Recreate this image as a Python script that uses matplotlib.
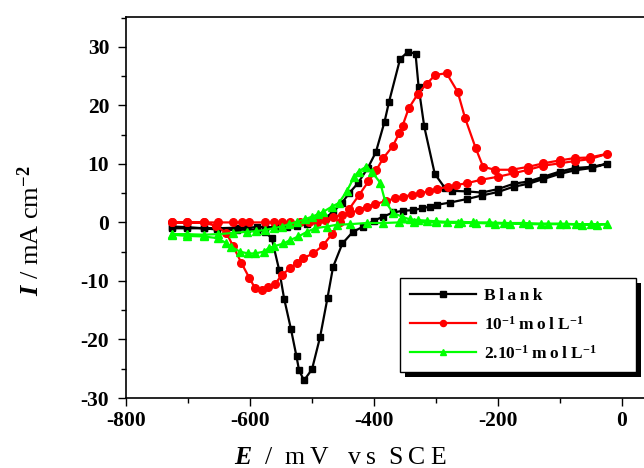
import matplotlib
matplotlib.use('Agg')
import matplotlib.pyplot as plt
from matplotlib.patches import Rectangle
from matplotlib.ticker import MultipleLocator, FuncFormatter

plt.rcParams['font.family'] = ['Liberation Serif', 'DejaVu Serif']
plt.rcParams['font.weight'] = 'bold'
plt.rcParams['mathtext.fontset'] = 'custom'
plt.rcParams['mathtext.rm'] = 'Liberation Serif:bold'
plt.rcParams['mathtext.bf'] = 'Liberation Serif:bold'
plt.rcParams['mathtext.it'] = 'Liberation Serif:italic:bold'

# Blank
blank_E = [-726, -702, -675, -654, -621, -605, -589, -576, -560, -541, -525, -508, -492, -478,
           -466, -452, -440, -426, -410, -397, -383, -376, -358, -345, -333, -328, -319, -302,
           -285, -275, -250, -226, -200, -175, -151, -127, -100, -76, -49, -25,
           -49, -76, -100, -127, -151, -175, -200, -226, -250, -277, -299, -310, -323, -337,
           -353, -369, -385, -400, -417, -434, -451, -466, -475, -487, -500, -513, -521, -525,
           -534, -545, -553, -565, -576, -589, -605, -621, -654, -675, -702, -726]
blank_I = [-1.0, -1.0, -1.0, -1.0, -0.9, -0.9, -0.8, -0.8, -0.8, -0.8, -0.6, -0.3, 0.1, 0.8,
           1.8, 3.3, 5.0, 6.7, 9.3, 12.0, 17.2, 20.5, 27.9, 29.2, 28.8, 23.1, 16.4, 8.3,
           5.8, 5.4, 5.3, 5.1, 5.7, 6.6, 7.0, 7.8, 8.7, 9.3, 9.5, 10.0,
           9.3, 8.9, 8.3, 7.4, 6.6, 6.1, 5.2, 4.6, 4.0, 3.4, 3.0, 2.7, 2.4, 2.1,
           2.0, 1.7, 1.0, 0.3, -0.7, -1.6, -3.6, -7.6, -12.9, -19.6, -25.1, -27.0, -25.2, -22.9,
           -18.2, -13.0, -8.1, -2.7, -1.6, -1.3, -1.2, -1.3, -1.2, -1.0, -0.8, -0.7]

# 10^-1 mol/L
c1_E = [-726, -702, -675, -655, -638, -627, -614, -601, -592, -581, -571, -560, -549, -535,
        -525, -514, -498, -482, -468, -455, -440, -424, -409, -396, -385, -370, -359, -354,
        -344, -329, -315, -301, -283, -265, -253, -236, -224, -205, -178, -151, -127, -100,
        -76, -52, -25,
        -52, -76, -100, -127, -151, -175, -200, -227, -250, -267, -280, -299, -312, -326,
        -339, -353, -366, -380, -398, -412, -425, -439, -452, -466, -479, -492, -505, -520,
        -535, -549, -562, -576, -601, -613, -627, -651, -675, -702, -726]
c1_I = [0.0, 0.0, 0.0, -0.6, -1.8, -4.1, -6.9, -9.5, -11.2, -11.5, -11.1, -10.6, -9.0, -7.8,
        -7.0, -6.1, -5.3, -3.9, -2.0, 0.0, 2.3, 4.7, 7.0, 9.0, 11.0, 13.0, 15.3, 16.5,
        19.5, 22.0, 23.7, 25.2, 25.5, 22.3, 17.8, 12.7, 9.5, 9.0, 9.0, 9.5, 10.1, 10.6,
        11.0, 11.1, 11.7,
        10.8, 10.5, 10.1, 9.7, 9.0, 8.4, 7.8, 7.3, 6.7, 6.4, 6.1, 5.7, 5.3, 5.0,
        4.7, 4.4, 4.1, 3.7, 3.1, 2.7, 2.1, 1.6, 1.3, 0.9, 0.4, 0.1, 0.0, 0.0,
        0.0, 0.0, 0.0, 0.0, 0.0, 0.0, 0.0, 0.0, 0.0, 0.0, 0.0]

# 2.10^-1 mol/L
c2_E = [-726, -702, -675, -651, -627, -605, -590, -576, -562, -549, -537, -525, -512, -500,
        -490, -482, -468, -457, -444, -432, -425, -413, -404, -390, -382, -369, -355, -342,
        -329, -315, -300, -283, -260, -240, -215, -190, -160, -130, -100, -75, -50, -25,
        -40, -65, -90, -120, -150, -180, -205, -235, -265, -300, -335, -360, -385, -412,
        -439, -460, -476, -495, -508, -522, -535, -546, -562, -570, -578, -592, -603, -616,
        -630, -638, -651, -675, -702, -726]
c2_I = [-2.0, -2.0, -2.1, -2.0, -1.8, -1.6, -1.5, -1.3, -1.0, -0.7, -0.3, 0.1, 0.5, 1.0,
        1.4, 1.8, 2.7, 3.3, 5.3, 7.8, 8.7, 9.5, 8.7, 6.8, 3.6, 1.6, 1.0, 0.5,
        0.4, 0.3, 0.2, 0.1, 0.1, 0.0, 0.0, -0.1, -0.1, -0.2, -0.2, -0.3, -0.3, -0.3,
        -0.4, -0.4, -0.3, -0.3, -0.3, -0.2, -0.2, -0.1, -0.1, 0.0, 0.0, 0.0, -0.1, -0.1,
        -0.3, -0.4, -0.7, -1.0, -1.6, -2.4, -3.0, -3.6, -4.1, -4.4, -5.0, -5.3, -5.3, -5.0,
        -4.2, -3.6, -2.7, -2.4, -2.3, -2.1]

TS = '\u2009'   # thin space


def sp(s, gap=TS):
    return gap.join(s)


fig = plt.figure(figsize=(6.44, 4.68), dpi=100)
ax = fig.add_axes([126 / 644, 1 - 398 / 468, 527 / 644, 381 / 468])

ax.plot(blank_E, blank_I, color='black', lw=1.6, marker='s', ms=5, label=sp('Blank'))
ax.plot(c1_E, c1_I, color='#ff0000', lw=1.6, marker='o', ms=5.5,
        label='10$^{-1}$' + TS + sp('mol') + ' L$^{-1}$')
ax.plot(c2_E, c2_I, color='#00ff00', lw=1.6, marker='^', ms=5.5,
        label='2.10$^{-1}$' + TS + sp('mol') + ' L$^{-1}$')

ax.set_xlim(-800, 50)
ax.set_ylim(-30, 35.1)
ax.xaxis.set_major_locator(MultipleLocator(200))
ax.xaxis.set_minor_locator(MultipleLocator(100))
ax.yaxis.set_major_locator(MultipleLocator(10))
ax.yaxis.set_minor_locator(MultipleLocator(5))
ax.xaxis.set_major_formatter(FuncFormatter(lambda v, p: '%d' % v))
ax.yaxis.set_major_formatter(FuncFormatter(lambda v, p: '%d' % v))
ax.tick_params(which='major', direction='out', length=6, width=1, labelsize=15.5)
ax.tick_params(axis='y', which='major', pad=6)
ax.tick_params(axis='x', which='major', pad=3)
ax.tick_params(which='minor', direction='out', length=3.5, width=1)
ax.tick_params(top=False, right=False)
for s in ax.spines.values():
    s.set_linewidth(1.2)
ax.spines['right'].set_visible(False)

ax.set_xlabel('$\\mathit{E}$  /  ' + sp('mV') + '   ' + sp('vs') + '  ' + sp('SCE'), fontsize=18.5)
ax.xaxis.set_label_coords(0.406, -0.128)
ax.set_ylabel('$\\mathit{I}$ / mA cm$^{-2}$', fontsize=19)
ax.yaxis.set_label_coords(-0.155, 0.44)

leg = ax.legend(loc='lower left', bbox_to_anchor=(0.52, 0.068, 0.447, 0.257), mode='expand',
                borderaxespad=0, fontsize=12.5, frameon=True, fancybox=False, framealpha=1,
                edgecolor='black', handlelength=3.8, handletextpad=0.5, labelspacing=0.65,
                borderpad=0.55, numpoints=1, markerscale=0.8)
leg.get_frame().set_linewidth(1)

fig.canvas.draw()
bb = leg.get_window_extent().transformed(ax.transAxes.inverted())
dx = 5 / 527
dy = 5 / 381
ax.add_patch(Rectangle((bb.x0 + dx, bb.y0 - dy), bb.width, bb.height, transform=ax.transAxes,
                       facecolor='black', edgecolor='none', zorder=4.9, clip_on=False))

fig.savefig('out.png', dpi=100)
